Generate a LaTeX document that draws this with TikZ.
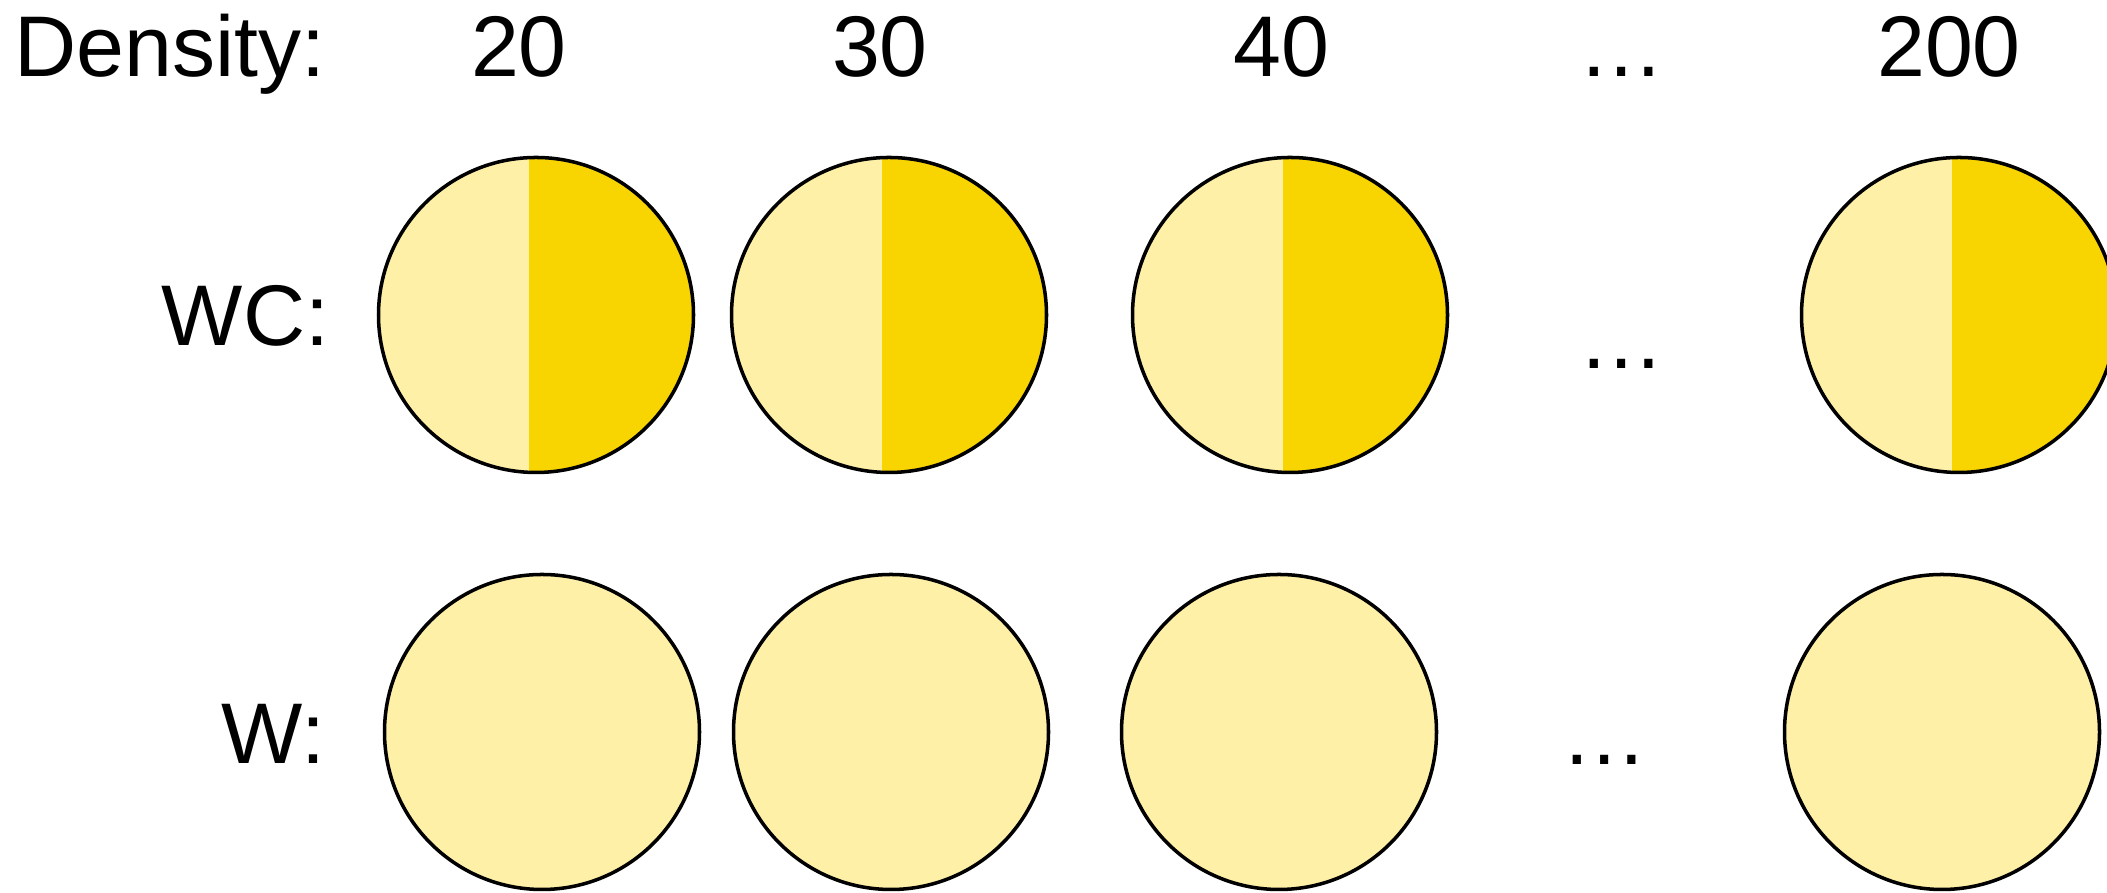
\documentclass[tikz,border=0pt]{standalone}
\usepackage{fontspec}
\setmainfont{Liberation Sans}
\usepackage{tikz}
\usetikzlibrary{positioning}

\definecolor{paleyel}{RGB}{255,240,168}
\definecolor{deepyel}{RGB}{248,212,0}

\begin{document}
\begin{tikzpicture}[
    font=\fontsize{24.5pt}{30pt}\selectfont,
    lbl/.style={inner sep=0pt, anchor=base east},
    num/.style={inner sep=0pt, anchor=base},
    wdisc/.style={circle, draw, line width=1pt, minimum size=3.15cm,
                  inner sep=0pt, fill=paleyel},
    wcdisc/.style={wdisc, path picture={
        \fill[deepyel] ([xshift=-0.07cm]path picture bounding box.north)
            rectangle (path picture bounding box.south east);}},
]
\useasboundingbox (0,0) rectangle (21.07,8.93);
% header row: densities
\node[lbl] (dens) at (3.26,8.16) {Density:};
\node[num] (d20)  at (5.19,8.16)  {20};
\node[num] (d30)  at (8.80,8.16)  {30};
\node[num] (d40)  at (12.81,8.16) {40};
\node[num] (ddot) at (16.22,8.16) {…};
\node[num] (d200) at (19.49,8.16) {200};

% WC row, half dark
\node[lbl] (wc) at (3.30,5.47) {WC:};
\node[wcdisc] (wc20)  at (5.36,5.78)  {};
\node[wcdisc] (wc30)  at (8.89,5.78)  {};
\node[wcdisc] (wc40)  at (12.90,5.78) {};
\node[num]    (wcdot) at (16.22,5.24) {…};
\node[wcdisc] (wc200) at (19.59,5.78) {};

% W row, plain
\node[lbl] (w) at (3.26,1.29) {W:};
\node[wdisc] (w20)  at (5.42,1.61)  {};
\node[wdisc] (w30)  at (8.91,1.61)  {};
\node[wdisc] (w40)  at (12.79,1.61) {};
\node[num]   (wdot) at (16.05,1.28) {…};
\node[wdisc] (w200) at (19.42,1.61) {};
\end{tikzpicture}
\end{document}
